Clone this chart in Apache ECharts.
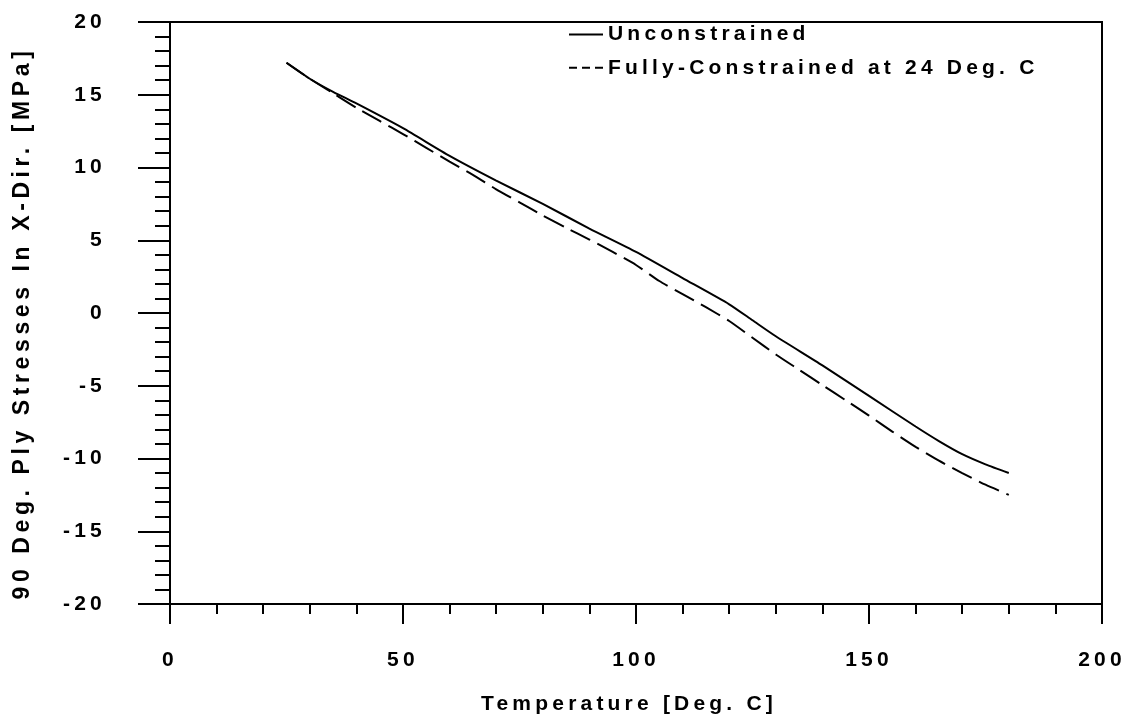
<!DOCTYPE html>
<html>
<head>
<meta charset="utf-8">
<script src="https://cdn.jsdelivr.net/npm/echarts@6/dist/echarts.min.js"></script>
<style>
html,body{margin:0;padding:0;background:#fff;}
#chart{width:1130px;height:722px;}
</style>
</head>
<body>
<div id="chart"></div>
<script>
// Data
const xTicks = [0, 50, 100, 150, 200];
const yTicks = [-20, -15, -10, -5, 0, 5, 10, 15, 20];

const unconstrainedTemp = [25, 30, 35, 40, 50, 60, 70, 80, 90, 100, 110, 120, 125, 130, 140, 150, 160, 165, 170, 175, 180];
const unconstrainedStress = [17.2, 16.1, 15.2, 14.4, 12.7, 10.8, 9.1, 7.5, 5.8, 4.2, 2.4, 0.6, -0.5, -1.6, -3.6, -5.7, -7.8, -8.8, -9.7, -10.4, -11.0];

const constrainedTemp = [25, 30, 35, 40, 45, 50, 55, 60, 65, 70, 75, 80, 85, 90, 95, 100, 105, 110, 115, 120, 125, 130, 135, 140, 145, 150, 155, 160, 165, 170, 175, 180];
const constrainedStress = [17.2, 16.1, 15.1, 14.1, 13.2, 12.3, 11.35, 10.4, 9.5, 8.5, 7.6, 6.7, 5.85, 5.05, 4.2, 3.3, 2.2, 1.3, 0.4, -0.55, -1.7, -2.85, -3.9, -4.95, -6.0, -7.05, -8.15, -9.2, -10.15, -11.0, -11.8, -12.5];

const seriesNames = ['Unconstrained', 'Fully-Constrained at 24 Deg. C'];
const xTitle = 'Temperature [Deg. C]';
const yTitle = '90 Deg. Ply Stresses In X-Dir. [MPa]';

// wide tracking like the original plotting font (0.2 em)
(function () {
  const P = CanvasRenderingContext2D.prototype;
  function track(ctx) {
    try {
      const m = /(\d+(?:\.\d+)?)px/.exec(ctx.font || '');
      const s = m ? parseFloat(m[1]) : 12;
      ctx.letterSpacing = (s * 0.2).toFixed(1) + 'px';
    } catch (e) {}
  }
  const origFill = P.fillText, origStroke = P.strokeText, origMeasure = P.measureText;
  P.fillText = function () { track(this); return origFill.apply(this, arguments); };
  P.strokeText = function () { track(this); return origStroke.apply(this, arguments); };
  P.measureText = function () { track(this); return origMeasure.apply(this, arguments); };
})();

const dom = document.getElementById('chart');
const chart = echarts.init(dom, null, {renderer: 'canvas', width: 1130, height: 722});

const FONT = 'Liberation Sans, Arial, sans-serif';
const txt = {color: '#000', fontFamily: FONT, fontWeight: 'bold', fontSize: 21};

function pairs(xs, ys) { return xs.map((x, i) => [x, ys[i]]); }

chart.setOption({
  animation: false,
  backgroundColor: '#fff',
  grid: {left: 170, right: 28, top: 22, bottom: 118, outerBoundsMode: 'none', containLabel: false,
         show: true, borderColor: '#000', borderWidth: 2, backgroundColor: 'transparent'},
  legend: {
    orient: 'vertical', left: 563, top: 17,
    itemWidth: 34, itemHeight: 14, itemGap: 8,
    textStyle: Object.assign({}, txt, {lineHeight: 22}),
    itemStyle: {opacity: 0},
    data: [
      {name: seriesNames[0]},
      {name: seriesNames[1], lineStyle: {type: [8, 5]}}
    ]
  },
  xAxis: {
    type: 'value', min: xTicks[0], max: xTicks[xTicks.length - 1], interval: 50,
    name: xTitle, nameLocation: 'middle', nameGap: 88,
    nameTextStyle: Object.assign({}, txt, {padding: [0, 14, 0, 0]}),
    axisLine: {onZero: false, lineStyle: {color: '#000', width: 2}},
    axisTick: {show: true, length: 20, lineStyle: {color: '#000', width: 2}},
    minorTick: {show: true, splitNumber: 5, length: 10, lineStyle: {color: '#000', width: 2}},
    axisLabel: Object.assign({}, txt, {margin: 44}),
    splitLine: {show: false}
  },
  yAxis: {
    type: 'value', min: yTicks[0], max: yTicks[yTicks.length - 1], interval: 5,
    name: yTitle, nameLocation: 'middle', nameGap: 134, nameRotate: 90,
    nameTextStyle: Object.assign({}, txt, {fontSize: 23, padding: [0, 20, 0, 0]}),
    axisLine: {onZero: false, lineStyle: {color: '#000', width: 2}},
    axisTick: {show: true, length: 32, lineStyle: {color: '#000', width: 2}},
    minorTick: {show: true, splitNumber: 5, length: 15, lineStyle: {color: '#000', width: 2}},
    axisLabel: Object.assign({}, txt, {margin: 64}),
    splitLine: {show: false}
  },
  series: [
    {
      name: seriesNames[0], type: 'line', data: pairs(unconstrainedTemp, unconstrainedStress),
      showSymbol: false, symbol: 'none', smooth: 0.2,
      lineStyle: {color: '#000', width: 2, type: 'solid'}, itemStyle: {color: '#000'}
    },
    {
      name: seriesNames[1], type: 'line', data: pairs(constrainedTemp, constrainedStress),
      showSymbol: false, symbol: 'none', smooth: 0.2,
      lineStyle: {color: '#000', width: 2, type: [22, 8]}, itemStyle: {color: '#000'}
    }
  ]
});
</script>
</body>
</html>
